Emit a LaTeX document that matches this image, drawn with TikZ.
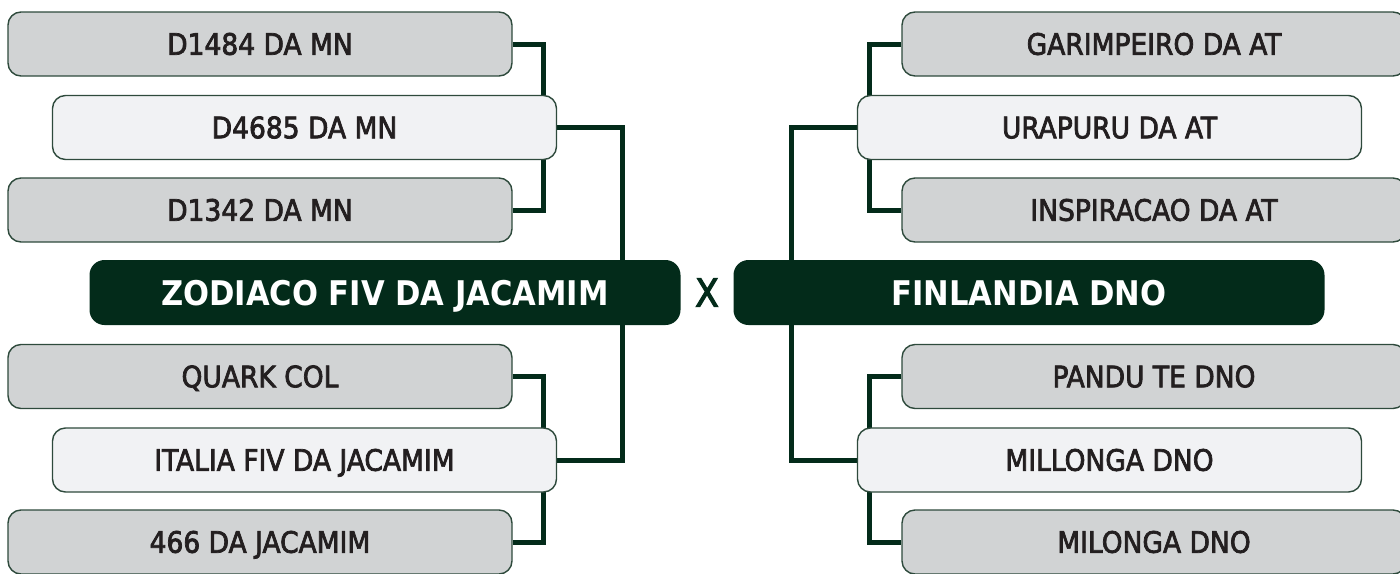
\documentclass[tikz,border=0pt]{standalone}
\usepackage{fontspec}
\setmainfont{DejaVu Sans Condensed}
\newfontfamily\namefont{DejaVu Sans Condensed}[FakeBold=2.5]
\usetikzlibrary{backgrounds}
\definecolor{pinegreen}{HTML}{032B1A}
\definecolor{boxgray}{HTML}{D1D3D4}
\definecolor{boxlight}{HTML}{F1F2F4}
\definecolor{edgegreen}{HTML}{2E4A3C}
\definecolor{inktext}{HTML}{231F20}

\begin{document}
\begin{tikzpicture}[x=1pt,y=-1pt,
  every node/.style={inner sep=0pt,text depth=0pt},
  grandbox/.style={rectangle,draw=edgegreen,line width=1.4pt,fill=boxgray,rounded corners=13pt,
    minimum width=504pt,minimum height=64pt,text height=21.5pt,
    font=\namefont\fontsize{29.5}{32}\selectfont,text=inktext},
  parentbox/.style={grandbox,fill=boxlight},
  mainbox/.style={rectangle,fill=pinegreen,rounded corners=15pt,minimum width=591pt,
    minimum height=65pt,text height=25pt,font=\fontsize{34}{36}\selectfont\bfseries,text=white},
  link/.style={draw=pinegreen,line width=5pt}]
  \useasboundingbox (0,0) rectangle (1400,573);
  % left side
  \node[grandbox] (d1484) at (260,44) {D1484 DA MN};
  \node[parentbox] (d4685) at (304.5,127.5) {D4685 DA MN};
  \node[grandbox] (d1342) at (260,210) {D1342 DA MN};
  \node[mainbox] (zodiaco) at (385,292.5) {ZODIACO FIV DA JACAMIM};
  \node[grandbox] (quark) at (260,376.5) {QUARK COL};
  \node[parentbox] (italia) at (304.5,460) {ITALIA FIV DA JACAMIM};
  \node[grandbox] (j466) at (260,542) {466 DA JACAMIM};
  % right side
  \node[grandbox] (garimpeiro) at (1154,44) {GARIMPEIRO DA AT};
  \node[parentbox] (urapuru) at (1109.5,127.5) {URAPURU DA AT};
  \node[grandbox] (inspiracao) at (1154,210) {INSPIRACAO DA AT};
  \node[mainbox] (finlandia) at (1029,292.5) {FINLANDIA DNO};
  \node[grandbox] (pandu) at (1154,376.5) {PANDU TE DNO};
  \node[parentbox] (millonga) at (1109.5,460) {MILLONGA DNO};
  \node[grandbox] (milonga) at (1154,542) {MILONGA DNO};
  \node[text=pinegreen,text height=28.5pt,font=\namefont\fontsize{39}{41}\selectfont] (vs) at (707,292.5) {X};
  % brackets behind the boxes
  \begin{scope}[on background layer]
    \draw[link] (d1484.east) -- ++(31,0) |- (d1342.east);
    \draw[link] (d4685.east) -- ++(65,0) |- (italia.east);
    \draw[link] (quark.east) -- ++(31,0) |- (j466.east);
    \draw[link] (garimpeiro.west) -- ++(-32,0) |- (inspiracao.west);
    \draw[link] (urapuru.west) -- ++(-65,0) |- (millonga.west);
    \draw[link] (pandu.west) -- ++(-32,0) |- (milonga.west);
  \end{scope}
\end{tikzpicture}
\end{document}
